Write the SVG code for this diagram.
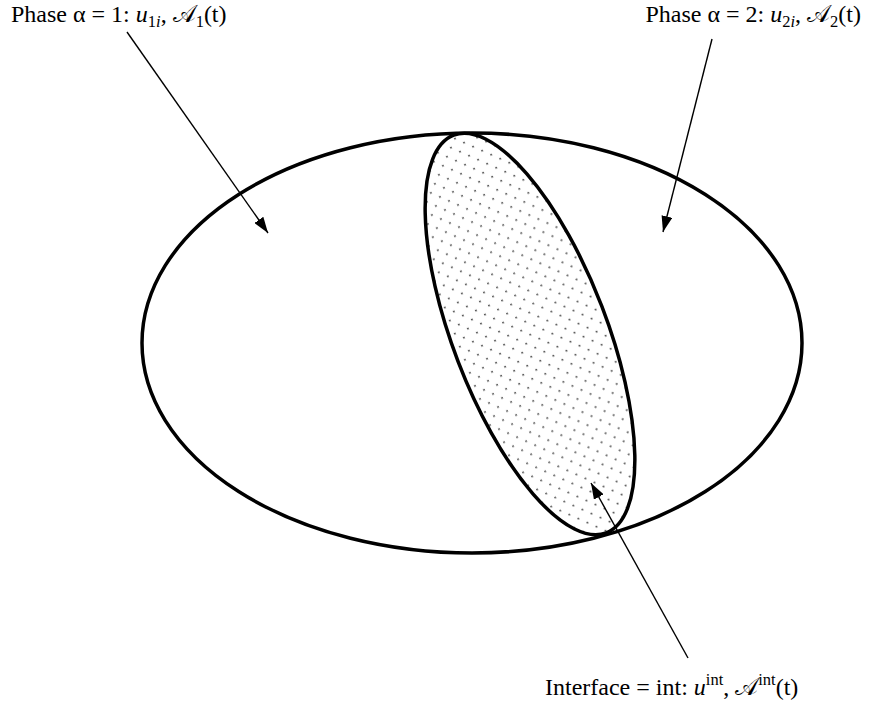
<svg xmlns="http://www.w3.org/2000/svg" width="874" height="706" viewBox="0 0 874 706">
  <style>
    .outline { fill: none; stroke: #000; stroke-width: 3.5; }
    .arrow { fill: none; stroke: #000; stroke-width: 1.4; marker-end: url(#head); }
    .lbl { font-family: "Liberation Serif", "DejaVu Serif", "DejaVu Sans", serif; font-size: 24px; fill: #000; }
    .it { font-style: italic; }
    .sm { font-size: 16.5px; }
  </style>
  <defs>
    <pattern id="dots" patternUnits="userSpaceOnUse" x="0" y="0" width="14" height="14">
      <circle cx="12" cy="12.7" r="0.9" fill="#333"/>
      <circle cx="5" cy="5.7" r="0.9" fill="#333"/>
    </pattern>
    <marker id="head" markerUnits="userSpaceOnUse" viewBox="0 0 16 11" refX="16" refY="5.5" markerWidth="16" markerHeight="11" orient="auto">
      <path d="M0,0 L16,5.5 L0,11 z" fill="#000"/>
    </marker>
  </defs>

  <g id="domain">
    <ellipse class="outline" cx="472" cy="343" rx="330" ry="210"/>
  </g>
  <g id="interface-region">
    <ellipse cx="530" cy="334" rx="77" ry="213" transform="rotate(-21 530 334)" fill="url(#dots)" stroke="#000" stroke-width="3.5"/>
  </g>

  <g id="connectors">
    <line class="arrow" x1="127" y1="32" x2="268" y2="233"/>
    <line class="arrow" x1="712" y1="39" x2="663" y2="232"/>
    <line class="arrow" x1="688" y1="658" x2="591" y2="483"/>
  </g>

  <g id="phase1">
    <text class="lbl" x="11" y="22">Phase α = 1: <tspan class="it">u</tspan><tspan class="sm" dy="5">1<tspan class="it">i</tspan></tspan><tspan dy="-5">, </tspan>𝒜<tspan class="sm" dy="5">1</tspan><tspan dy="-5">(t)</tspan></text>
  </g>
  <g id="phase2">
    <text class="lbl" x="861" y="22" text-anchor="end">Phase α = 2: <tspan class="it">u</tspan><tspan class="sm" dy="5">2<tspan class="it">i</tspan></tspan><tspan dy="-5">, </tspan>𝒜<tspan class="sm" dy="5">2</tspan><tspan dy="-5">(t)</tspan></text>
  </g>
  <g id="interface">
    <text class="lbl" x="545" y="695">Interface = int: <tspan class="it">u</tspan><tspan class="sm" dy="-10">int</tspan><tspan dy="10">, </tspan>𝒜<tspan class="sm" dy="-10">int</tspan><tspan dy="10">(t)</tspan></text>
  </g>
</svg>
